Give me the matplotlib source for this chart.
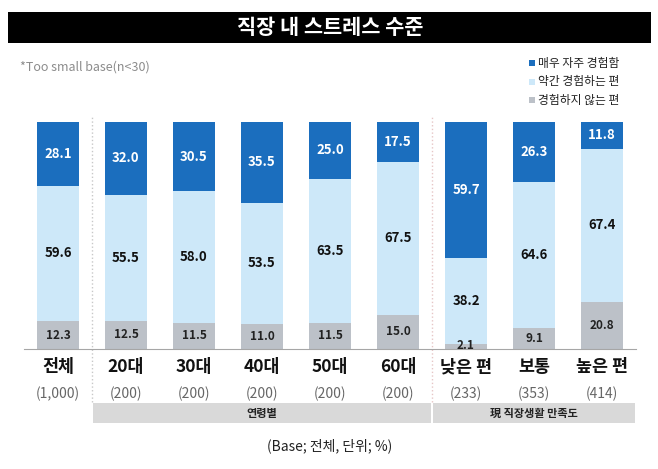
import matplotlib.pyplot as plt
from matplotlib.patches import Rectangle
from matplotlib.lines import Line2D
from matplotlib.transforms import blended_transform_factory

plt.rcParams['font.family'] = ['Noto Sans CJK KR', 'DejaVu Sans']

categories = ['전체', '20대', '30대', '40대', '50대', '60대', '낮은 편', '보통', '높은 편']
base_n = ['(1,000)', '(200)', '(200)', '(200)', '(200)', '(200)', '(233)', '(353)', '(414)']
often = [28.1, 32.0, 30.5, 35.5, 25.0, 17.5, 59.7, 26.3, 11.8]
somewhat = [59.6, 55.5, 58.0, 53.5, 63.5, 67.5, 38.2, 64.6, 67.4]
never = [12.3, 12.5, 11.5, 11.0, 11.5, 15.0, 2.1, 9.1, 20.8]
series_names = ['매우 자주 경험함', '약간 경험하는 편', '경험하지 않는 편']
groups = [('연령별', 1, 5), ('現 직장생활 만족도', 6, 8)]

c_dark = '#1b6ebe'
c_light = '#cde8f9'
c_gray = '#bcc1c8'

W, H = 658, 469
fig = plt.figure(figsize=(W / 100, H / 100), dpi=100)

def fx(px):
    return px / W

def fy(py):
    return 1 - py / H

ax = fig.add_axes([fx(24), fy(349), (636 - 24) / W, (349 - 122) / H])
x = list(range(len(categories)))
ax.bar(x, never, width=0.61, color=c_gray)
ax.bar(x, somewhat, width=0.61, bottom=never, color=c_light)
bott = [a + b for a, b in zip(never, somewhat)]
ax.bar(x, often, width=0.61, bottom=bott, color=c_dark)
ax.set_xlim(-0.5, len(categories) - 0.5)
ax.set_ylim(0, 100)
for s in ['top', 'right', 'left']:
    ax.spines[s].set_visible(False)
ax.spines['bottom'].set_color('#a6a6a6')
ax.set_xticks([])
ax.set_yticks([])

for i in x:
    n, s, o = never[i], somewhat[i], often[i]
    ax.text(i, max(n / 2, 1.6), f'{n:.1f}', ha='center', va='center', fontsize=8.5,
            fontweight='bold', color='#222222')
    ax.text(i, n + s / 2, f'{s:.1f}', ha='center', va='center', fontsize=9.5,
            fontweight='bold', color='#111111')
    ax.text(i, n + s + o / 2, f'{o:.1f}', ha='center', va='center', fontsize=9.5,
            fontweight='bold', color='white')

tr = blended_transform_factory(ax.transData, fig.transFigure)

# dotted separators between groups
for xs, col in [(0.5, '#c8c8c8'), (5.5, '#e6c6c6')]:
    ax.add_line(Line2D([xs, xs], [fy(402), fy(115)], transform=tr, color=col,
                       linestyle=':', linewidth=1, clip_on=False))

for i, (cat, nb) in enumerate(zip(categories, base_n)):
    ax.text(i, fy(367), cat, transform=tr, ha='center', va='center',
            fontsize=12.5, fontweight='bold', color='#111111')
    ax.text(i, fy(394), nb, transform=tr, ha='center', va='center',
            fontsize=10, color='#666666')

# group boxes
for label, a, b in groups:
    x0 = a - 0.5 + 0.02
    x1 = b + 0.5 - 0.02
    ax.add_patch(Rectangle((x0, fy(423)), x1 - x0, (423 - 403) / H, transform=tr,
                           facecolor='#d9d9d9', edgecolor='none', clip_on=False))
    ax.text((a + b) / 2, fy(413), label, transform=tr, ha='center', va='center',
            fontsize=8, fontweight='bold', color='#222222')

# title bar
fig.patches.append(Rectangle((fx(8), fy(43)), fx(651) - fx(8), (43 - 12) / H,
                             transform=fig.transFigure, facecolor='black', edgecolor='none'))
fig.text(fx(330), fy(28), '직장 내 스트레스 수준', ha='center', va='center',
         fontsize=15, fontweight='bold', color='white')

fig.text(fx(20), fy(67), '*Too small base(n<30)', ha='left', va='center',
         fontsize=9, color='#8c8c8c')

# legend
for k, (name, col) in enumerate(zip(series_names, [c_dark, c_light, c_gray])):
    yy = [63, 82, 100][k]
    fig.patches.append(Rectangle((fx(529), fy(yy + 3)), 6 / W, 6 / H,
                                 transform=fig.transFigure, facecolor=col, edgecolor='none'))
    fig.text(fx(538), fy(yy), name, ha='left', va='center', fontsize=8.5, color='#222222')

fig.text(fx(330), fy(446), '(Base; 전체, 단위; %)', ha='center', va='center',
         fontsize=10, color='#222222')

fig.savefig('out.png', dpi=100)
